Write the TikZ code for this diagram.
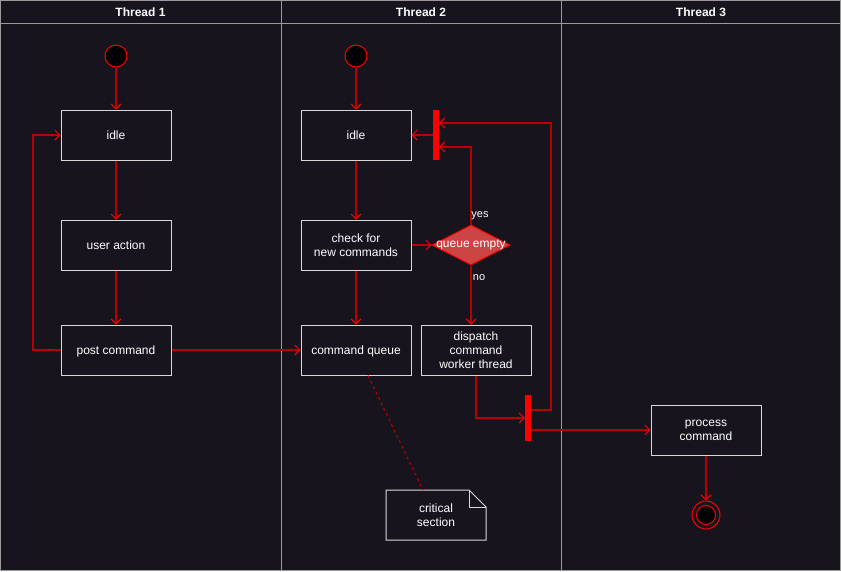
\documentclass[tikz,border=0pt]{standalone}
\usepackage{fontspec}
\setmainfont{Liberation Sans}
\usetikzlibrary{arrows.meta,shapes.geometric}
\definecolor{bg}{HTML}{18141D}
\definecolor{lanec}{HTML}{9A9A9A}
\definecolor{boxc}{HTML}{D8D8D8}
\definecolor{lc}{HTML}{B80000}
\definecolor{ac}{HTML}{FF0000}
\definecolor{dfill}{HTML}{CC4444}
\begin{document}
\begin{tikzpicture}[x=1pt,y=-1pt,
  font=\fontsize{12}{14}\selectfont,
  box/.style={draw=boxc, fill=bg, text=white, minimum width=110pt, minimum height=50pt, align=center, inner sep=0pt, line width=1pt, text depth=0pt},
  conn/.style={draw=lc, line width=1.3pt, -{Straight Barb[length=5pt,width=10pt,color=ac,line width=1pt]}},
  barnode/.style={fill=ac, draw=none, minimum width=6pt, inner sep=0pt},
  startnode/.style={circle, fill=black, draw=ac, line width=1pt, minimum size=22pt, inner sep=0pt},
  lbl/.style={text=white, font=\fontsize{11}{13}\selectfont, inner sep=1pt}]
\useasboundingbox (0,0) rectangle (841,571);
\fill[bg] (0,0) rectangle (841,571);
% pool
\draw[lanec, line width=1pt] (0.5,0.5) rectangle (840.5,570.5);
\draw[lanec, line width=1pt] (0,23) -- (841,23);
\draw[lanec, line width=1pt] (281,0) -- (281,571);
\draw[lanec, line width=1pt] (561,0) -- (561,571);
\node[text=white, font=\bfseries\fontsize{12}{14}\selectfont] (h1) at (140.5,12) {Thread 1};
\node[text=white, font=\bfseries\fontsize{12}{14}\selectfont] (h2) at (421,12) {Thread 2};
\node[text=white, font=\bfseries\fontsize{12}{14}\selectfont] (h3) at (701,12) {Thread 3};
% thread 1
\node[startnode] (s1) at (116,56) {};
\node[box] (idle1) at (116,135) {idle};
\node[box] (ua) at (116,245) {user action};
\node[box] (post) at (116,350) {post command};
% thread 2
\node[startnode] (s2) at (356,56) {};
\node[box] (idle2) at (356,135) {idle};
\node[box] (check) at (356,245) {check for\\new commands};
\node[box] (cq) at (356,350) {command queue};
\node[diamond, draw=ac, fill=dfill, line width=1pt, minimum width=78pt, minimum height=40pt, inner sep=0pt] (qe) at (471,245) {};
\node[text=white] (qet) at (qe) {queue empty};
\node[box] (disp) at (476,350) {dispatch\\command\\worker thread};
\node[barnode, minimum height=50pt] (bar1) at (436,135) {};
\node[barnode, minimum height=46pt] (bar2) at (528,418) {};
% note
\coordinate (n1) at (386,490);
\coordinate (n2) at (469,490);
\coordinate (n3) at (486,507);
\coordinate (n4) at (486,540);
\coordinate (n5) at (386,540);
\draw[boxc, fill=bg, line width=1pt] (n1) -- (n2) -- (n3) -- (n4) -- (n5) -- cycle;
\draw[boxc, line width=1pt] (n2) -- (469,507) -- (n3);
\node[text=white, align=center] (note) at (436,515) {critical\\section};
% thread 3
\node[box] (proc) at (706,430) {process\\command};
\node[circle, draw=ac, fill=bg, line width=1pt, minimum size=28pt, inner sep=0pt] (end) at (706,515) {};
\node[circle, draw=ac, fill=black, line width=1pt, minimum size=19pt, inner sep=0pt] (endin) at (end) {};
% connectors
\draw[conn] (s1) -- (idle1);
\draw[conn] (idle1) -- (ua);
\draw[conn] (ua) -- (post);
\coordinate (lp) at (33,350);
\draw[conn] (post.west) -- (lp) |- (idle1.west);
\draw[conn] (post) -- (cq);
\draw[conn] (s2) -- (idle2);
\draw[conn] (idle2) -- (check);
\draw[conn] (check) -- (cq);
\draw[conn] (check) -- (qe);
\draw[conn] (bar1.west) -- (idle2.east);
\draw[conn] (qe.north) |- ([yshift=-12pt]bar1.east);
\coordinate (rp) at (551,410);
\draw[conn] ([yshift=8pt]bar2.east) -- (rp) |- ([yshift=12pt]bar1.east);
\draw[conn] (qe.south) -- (qe.south |- disp.north);
\draw[conn] (disp.south) |- (bar2.west);
\draw[conn] ([yshift=-12pt]bar2.east) -- (proc.west);
\draw[conn] (proc) -- (end);
\draw[lc, line width=1pt, dashed, dash pattern=on 3pt off 3pt] ([xshift=12pt]cq.south) -- (423,490);
\node[lbl] (yes) at (480,216) {yes};
\node[lbl] (no) at (479,278) {no};
\end{tikzpicture}
\end{document}
